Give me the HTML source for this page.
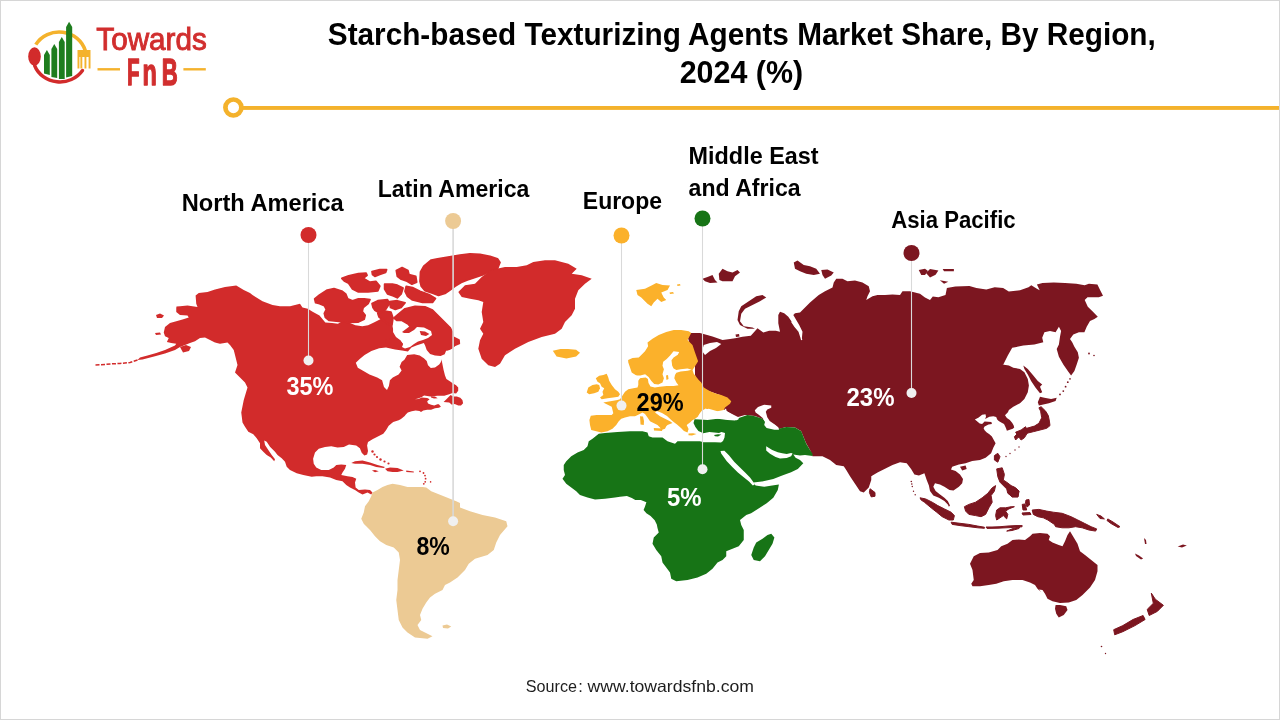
<!DOCTYPE html>
<html><head><meta charset="utf-8"><title>Starch-based Texturizing Agents Market Share, By Region</title>
<style>
html,body{margin:0;padding:0;background:#fff;}
body{width:1280px;height:720px;overflow:hidden;position:relative;font-family:"Liberation Sans",sans-serif;}
svg{position:absolute;left:0;top:0;will-change:transform;}
.frame{position:absolute;left:0;top:0;width:1278px;height:718px;border:1px solid #d6d6d6;}
</style></head>
<body>
<svg width="1280" height="720" viewBox="0 0 1280 720" font-family="Liberation Sans, sans-serif">
<g id="map">
<path d="M690,333 L700,333 L712.5,336.5 L722.5,340 L730,339 L735,338.3 L742.5,336.7 L750.8,335.8 L757.5,328.3 L763.3,332.5 L769.2,330.8 L775.8,330.8 L780,331.7 L778.3,323.3 L778.3,315 L780,311.7 L784.2,313.3 L788.3,316.7 L791.7,321.7 L795,326.7 L799.2,331.7 L800.8,336.7 L801.7,340 L802.5,331.7 L799.2,325 L795.8,319.2 L793.3,315 L795,313.3 L800,312.5 L803.75,308.75 L810,302.5 L818.75,295 L825,291.25 L832.5,287.5 L833.75,282.5 L836.25,278.75 L842.5,278.75 L847.5,281.25 L855,280.6 L862.5,282.5 L868.75,286.25 L870,291.25 L867.5,296.25 L866.25,300 L872.5,296.25 L877.5,295 L885,295 L892.5,294.4 L900,295 L902.5,291.25 L910,291.25 L920,293.75 L925,297.5 L930,300 L932.8,296.5 L938.4,297.2 L945.5,295.1 L946.9,288 L955.3,286.6 L969.4,285.9 L976.4,288 L986.3,289.5 L994.7,287.3 L1003.1,288 L1008.8,291.6 L1020,290.2 L1028.5,287.3 L1031.3,285.2 L1036.9,288.8 L1039.7,290.2 L1036.9,284.5 L1042.5,283.1 L1053.8,282.4 L1065,283.1 L1076.3,283.8 L1084.7,285.2 L1088.9,283.8 L1097.4,284.5 L1100.2,290.2 L1103,295.8 L1098.8,297.2 L1087.5,297.2 L1084.7,300 L1087.8,306.7 L1092.2,311.1 L1097.8,316.7 L1094.4,318.9 L1090,321.1 L1086.7,326.7 L1084.4,332.2 L1078.9,332.2 L1073.3,334.4 L1070,338.9 L1072.2,342.2 L1074.4,346.7 L1077.8,352.2 L1078.9,357.8 L1076.7,364.4 L1074.4,371.1 L1071.1,375.6 L1067.8,371.1 L1063.3,364.4 L1058.9,356.7 L1056.7,348.9 L1058.9,344.4 L1060,336.7 L1061.1,331.1 L1058.9,326.7 L1055.6,332.2 L1050,331.1 L1044.4,332.2 L1042.2,337.8 L1043.3,342.2 L1034.4,344.4 L1023.3,345.6 L1012.2,347.8 L1007.8,355.6 L1003.3,364.4 L1002.2,364.4 L1008.9,365.6 L1013.3,367.8 L1020,368.9 L1024.4,372.2 L1027.8,378.9 L1028.9,385.6 L1027.8,392.2 L1024.4,398.9 L1020,403.3 L1013.3,406.7 L1008.9,409.9 L1007.9,412.3 L1005,415.2 L1006.9,418.1 L1009.8,420.1 L1012.3,423 L1013.7,425.4 L1014.2,427.4 L1012.8,428.8 L1009.8,429.8 L1006.9,430.8 L1006,428.3 L1005,425.9 L1004,424 L1002.1,423 L998.7,421 L997.2,419.6 L996.2,417.1 L993.3,416.2 L989.4,416.7 L985.1,419.1 L986,416.7 L985.5,414.2 L982.1,414.7 L978.7,417.6 L974.9,419.6 L977.3,421.5 L979.7,423.5 L982.1,424 L984.6,421.5 L991.4,422 L991.9,424 L988.5,424.4 L984.6,426.4 L983.6,428.3 L984.6,430.3 L986.5,432.2 L989.4,434.2 L991.9,436.6 L993.8,440 L995.6,443.3 L993.3,447.8 L991.1,453.3 L985.6,457.8 L980,460 L972.2,461.1 L965.6,463.3 L958.9,464.4 L952.2,466.7 L951,469.5 L955.6,471.1 L960,474.4 L963,479 L962.2,483.3 L958.9,486.7 L953.5,490.5 L949.5,490 L944.4,486.7 L940,484.4 L935,483.3 L933.3,486.7 L935.6,491.1 L940,494.4 L944.4,497.8 L947.8,501.1 L950,505.6 L948.9,506.7 L947.8,504.4 L944.4,501.1 L938.9,497.8 L933.3,495.6 L930,491.1 L928.9,485.6 L926.7,480 L924.4,473.3 L918.9,475.6 L914.4,474.4 L911.1,468.9 L906.7,463.3 L900,462.2 L892.5,465 L885,468.75 L877.5,472.5 L871.25,476.25 L871.25,480 L868.75,487.5 L863.75,492.5 L860,491.25 L855,483.75 L850,476.25 L846.25,470 L843.75,466.25 L836.25,465 L830,460 L822.5,456.25 L812.5,456.25 L810,450 L806,443 L803.75,437.5 L801,431 L795,427.5 L786,427 L779,429 L775,425 L765,420 L755,416 L745,415 L738,417 L730,413 L724,410 L722,405 L728,400 L720,395 L700,388 L695,375 L695,360 L690,345 L688,338Z" fill="#7C1620"/>
<path d="M762.5,295 L766.25,297.5 L760,301.25 L752.5,305 L745,308.75 L741.25,313.75 L740,321.25 L743.75,326.25 L752.5,327.5 L755,328.75 L747.5,328.75 L740,325 L737.5,320 L738.75,311.25 L741.25,306.25 L748.75,301.25 L756.25,296.25Z" fill="#7C1620"/>
<path d="M718.75,273.75 L722.5,268.75 L727.5,271.25 L732.5,272.5 L737.5,270 L740,272.5 L735,276.25 L732.5,281.25 L727.5,281.25 L722.5,281.25 L719.4,280Z" fill="#7C1620"/>
<path d="M702.5,278.75 L707.5,276.9 L712.5,275 L715,280 L717.5,282.5 L710,283.1 L705,281.25Z" fill="#7C1620"/>
<path d="M735.5,334.5 L739,334 L739.5,336.5 L736,337Z" fill="#7C1620"/>
<path d="M793.75,262.5 L797.5,260.6 L803.75,265 L810,266.25 L816.25,268.75 L820,273.75 L813.75,275 L806.25,273.75 L800,271.25 L795,268.75Z" fill="#7C1620"/>
<path d="M821.25,270 L827.5,269.4 L833.75,272.5 L831.25,275.6 L825,278.75 L822.5,275Z" fill="#7C1620"/>
<path d="M918.75,270 L925,268.75 L928,271 L925,275 L921.25,275Z" fill="#7C1620"/>
<path d="M930,269 L938.4,270.5 L935.6,274.7 L930,277.5 L926,273Z" fill="#7C1620"/>
<path d="M942.7,269 L953.9,269 L953.9,271.2 L944,271.2Z" fill="#7C1620"/>
<path d="M939.8,280.3 L948.3,281.7 L944,283.8Z" fill="#7C1620"/>
<path d="M1040,396.7 L1044.4,397.8 L1051.1,398.9 L1056.7,397.8 L1055.6,401.1 L1048.9,403.3 L1043.3,404.4 L1038.9,405.6 L1037.8,402.2Z" fill="#7C1620"/>
<path d="M1023.3,365.6 L1027.8,368.9 L1033.3,375.6 L1037.8,381.1 L1042.2,384.4 L1040,386.7 L1042.2,392.2 L1040,393.3 L1035.6,387.8 L1031.1,381.1 L1027.8,374.4 L1024.4,368.9Z" fill="#7C1620"/>
<path d="M960,466.7 L965.6,465.6 L966.7,468.9 L962.2,470.6Z" fill="#7C1620"/>
<path d="M970,563.75 L973.75,556.25 L980,553.1 L988.75,552.5 L997.5,550 L1001.25,546.25 L1007.5,543.75 L1012.5,540 L1018.75,539.4 L1025,540 L1030,536.25 L1032.5,533.75 L1040,533.1 L1047.5,533.75 L1050,536.25 L1048.75,540 L1052.5,542.5 L1058.75,545 L1062.5,546.25 L1065,541.25 L1067.5,535 L1070,531.25 L1073.75,537.5 L1077.5,543.75 L1080,551.25 L1085,555 L1091.25,560 L1097.5,565 L1097.5,571.25 L1095,580 L1090,587.5 L1082.5,595 L1076.25,600 L1068.75,602.5 L1060,603.1 L1052.5,601.25 L1047.5,598.75 L1045,593.75 L1042.5,590 L1039,589.5 L1041,592 L1037.5,588.75 L1035,585 L1030,582.5 L1022.5,580 L1012.5,580 L1003.75,581.25 L996.25,583.75 L988.75,585 L980,586.25 L972.5,586.25 L971.25,583.75 L973.75,580 L972.5,570Z" fill="#7C1620"/>
<path d="M1055.6,605 L1060,605 L1066.25,606.25 L1067.5,610 L1063.75,615 L1058.75,617.5 L1056.25,613.75 L1055,608.75Z" fill="#7C1620"/>
<path d="M1135,553.5 L1139,555.5 L1143.1,558.6 L1141,559.5 L1136,556Z" fill="#7C1620"/>
<path d="M1144,538 L1146,540 L1146.5,544 L1145,544Z" fill="#7C1620"/>
<path d="M1177.7,546.4 L1183,544.5 L1186.8,545.4 L1182,547.5Z" fill="#7C1620"/>
<path d="M1041.1,406.7 L1045.6,411.1 L1048.3,415.6 L1049.4,421.1 L1050,425.6 L1046.7,428.3 L1040,430 L1033.3,431.7 L1026.7,433.3 L1021.1,435.6 L1017.8,437.8 L1015.6,440 L1014.4,436.7 L1018.9,432.2 L1026.7,428.3 L1034.4,426.1 L1038.9,423.3 L1041.7,417.8 L1040.6,411.1 L1038.9,407.8Z" fill="#7C1620" stroke="#7C1620" stroke-width="1" stroke-linejoin="round"/>
<path d="M1015.6,432.2 L1021.1,430 L1025.6,426.7 L1027.8,432.2 L1024.4,437.8 L1021.1,440 L1017.8,435.6Z" fill="#7C1620" stroke="#7C1620" stroke-width="1" stroke-linejoin="round"/>
<path d="M994.4,455.6 L997.8,453.3 L1000,456.7 L997.8,462.2 L994.4,460Z" fill="#7C1620" stroke="#7C1620" stroke-width="1" stroke-linejoin="round"/>
<path d="M996.7,468.9 L1002.2,467.8 L1004.4,474.4 L1003.3,480 L1006.7,482.2 L1011.1,485.6 L1015.6,487.8 L1018.9,491.1 L1017.8,496.7 L1012.2,496.7 L1007.8,493.3 L1006.7,488.9 L1000,482.2 L997.8,476.7Z" fill="#7C1620" stroke="#7C1620" stroke-width="1" stroke-linejoin="round"/>
<path d="M964.4,506.7 L968.9,504.4 L975.6,502.2 L982.2,497.8 L987.8,493.3 L992.2,487.8 L995.6,485.6 L994.4,491.1 L991.1,495.6 L992.2,502.2 L988.9,507.8 L985.6,514.4 L981.1,516.7 L975.6,515.6 L968.9,514.4 L965.6,511.1Z" fill="#7C1620" stroke="#7C1620" stroke-width="1" stroke-linejoin="round"/>
<path d="M920,497.8 L925.6,498.9 L932.2,502.2 L937.8,505.6 L944.4,508.9 L951.1,512.2 L954.4,515.6 L953.3,520 L948.9,520 L942.2,516.7 L936.7,512.2 L931.1,507.8 L924.4,502.2 L921.1,500Z" fill="#7C1620" stroke="#7C1620" stroke-width="1" stroke-linejoin="round"/>
<path d="M951.1,522.2 L960,523.3 L968.9,524.4 L977.8,526.1 L984.4,527.2 L984.4,528.3 L977.8,527.8 L968.9,526.7 L960,525.6 L952.2,524.4Z" fill="#7C1620" stroke="#7C1620" stroke-width="1" stroke-linejoin="round"/>
<path d="M996.7,510 L1000,507.8 L1005.6,507.8 L1011.1,506.7 L1014.4,506.7 L1008.9,508.9 L1005.6,511.1 L1007.8,514.4 L1006.7,518.9 L1003.3,515.6 L1000,517.8 L996.7,520 L995.6,515.6Z" fill="#7C1620" stroke="#7C1620" stroke-width="1" stroke-linejoin="round"/>
<path d="M1032.2,510 L1038.9,509.4 L1046.7,511.1 L1053.3,512.2 L1062.2,513.3 L1071.1,516.7 L1077.8,520 L1084.4,523.3 L1091.1,526.7 L1096.7,528.9 L1095.6,531.1 L1088.9,530 L1082.2,527.8 L1075.6,526.7 L1068.9,527.8 L1062.2,527.8 L1055.6,526.7 L1054.4,524.4 L1047.8,520 L1043.3,517.8 L1037.8,516.7 L1033.3,514.4Z" fill="#7C1620" stroke="#7C1620" stroke-width="1" stroke-linejoin="round"/>
<path d="M1006.7,531.1 L1013,528.5 L1020,526.7 L1019,528.5 L1012,530.5Z" fill="#7C1620" stroke="#7C1620" stroke-width="1" stroke-linejoin="round"/>
<path d="M986,527 L992,527 L1000,526.7 L1008,526 L1016,525.6 L1022.2,525.6 L1022,526.8 L1010,527.6 L998,528.2 L987,528.4Z" fill="#7C1620" stroke="#7C1620" stroke-width="1" stroke-linejoin="round"/>
<path d="M1022.2,504.4 L1025,504 L1026.7,510 L1023,510Z" fill="#7C1620" stroke="#7C1620" stroke-width="1" stroke-linejoin="round"/>
<path d="M1107.8,518.9 L1113,522 L1120,526.7 L1118,527.5 L1111,523.5 L1107,520.5Z" fill="#7C1620" stroke="#7C1620" stroke-width="1" stroke-linejoin="round"/>
<path d="M1096.7,514.4 L1101,516 L1104.4,518.9 L1100,518.5Z" fill="#7C1620" stroke="#7C1620" stroke-width="1" stroke-linejoin="round"/>
<path d="M870,488.75 L875,492.5 L875,496.25 L871.25,496.9 L869.4,492.5Z" fill="#7C1620" stroke="#7C1620" stroke-width="1" stroke-linejoin="round"/>
<path d="M1151.3,593.1 L1155.3,599.2 L1163.4,605.3 L1157.3,611.4 L1149.2,615.5 L1147.2,609.4 L1153.3,603.3Z" fill="#7C1620" stroke="#7C1620" stroke-width="1" stroke-linejoin="round"/>
<path d="M1143.1,615.5 L1145.1,619.5 L1135,625.6 L1122.8,631.7 L1114.7,634.8 L1113.7,629.7 L1122.8,625.6 L1133,619.5Z" fill="#7C1620" stroke="#7C1620" stroke-width="1" stroke-linejoin="round"/>
<path d="M1026,500 L1029,499.5 L1029.5,505 L1027,507 L1025.5,503Z" fill="#7C1620" stroke="#7C1620" stroke-width="1" stroke-linejoin="round"/>
<path d="M1008,488 L1014,487 L1019,491 L1018,497 L1012,497 L1008,493Z" fill="#7C1620" stroke="#7C1620" stroke-width="1" stroke-linejoin="round"/>
<path d="M1022,513 L1030,512.5 L1031,514.5 L1023,515Z" fill="#7C1620" stroke="#7C1620" stroke-width="1" stroke-linejoin="round"/>
<polyline points="791.7,321.7 795,326.7 799.2,331.7 800.8,336.7 801.7,340" fill="none" stroke="#fff" stroke-width="1.3"/>
<path d="M598.75,433.75 L605,433.1 L611.25,432.5 L617.5,431.9 L630,431.25 L642.5,431.25 L647.5,432.5 L648.75,436.25 L652.5,437.5 L657.5,437.5 L662.5,437.5 L667.5,441.25 L675,443.75 L677.5,441.25 L685,441.25 L692.5,441.25 L700,441.25 L703.4,442.3 L715,442.3 L721,442.6 L723,441 L724.5,437.6 L725,432.9 L721.4,432.1 L719,432.9 L714.4,432.5 L709.3,432.1 L703.4,433.3 L698.4,430.9 L695.4,427 L693.5,423 L694.5,419.2 L700,419.5 L707.5,420 L717.5,418.75 L727.5,420 L735,420.6 L738.75,418 L747.5,415 L755,416.25 L762.5,418.75 L766,422 L770,426 L778.75,428.75 L786.25,426.9 L795,427.5 L801.25,431.25 L803.75,437.5 L806.25,443.75 L810,450 L812.5,453.75 L812.5,456 L805,455 L800,455.6 L793.3,454.4 L795.6,457.8 L800,460 L803.3,463.3 L797.8,468.9 L791.1,472.2 L782.2,475.6 L773.3,478.9 L764.4,481.1 L753.3,482.4 L755.6,485.6 L764.4,486.7 L772.2,485.6 L778.9,484.4 L777.8,490 L773.3,497.8 L766.7,503.3 L757.8,508.9 L751.1,513.3 L746.25,515 L746.25,515 L740,520 L741.25,525 L743.75,530 L743.75,540 L738.75,546.25 L732.5,548.75 L726.25,551.25 L726.25,556.25 L722.5,560 L717.5,562.5 L712.5,568.75 L706.25,573.75 L697.5,577.5 L687.5,580 L676.25,581.25 L671.25,578.75 L670,572.5 L666.25,567.5 L662.5,562.5 L661.25,556.25 L656.25,550 L652.5,543.75 L653.75,537.5 L658.75,532.5 L657.5,528 L656.8,524.4 L654.7,520.3 L650.6,516.1 L646.4,513.3 L643.6,509.9 L645,506.4 L646.4,502.2 L640.8,500.1 L635.3,500.1 L631.8,498 L626.9,496 L620,496.7 L615,497.5 L605,498.75 L595,499.4 L587.5,497.5 L580,495 L576.25,491.25 L571.25,487.5 L566.25,483.75 L562.5,478.75 L565,475 L563.75,470 L563.75,465 L566.25,461.25 L571.25,456.25 L577.5,452.5 L583.75,450 L587.5,446.25 L588.75,441.25 L592.5,438.75Z" fill="#177416"/>
<path d="M771.25,533.75 L774.4,537.5 L772.5,543.75 L768.75,550 L765,556.25 L760,561.25 L753.75,560 L751.25,555 L753.75,547.5 L756.25,542.5 L762.5,538.75 L767.5,535Z" fill="#177416"/>
<path d="M714,435 L718,434.3 L721.4,434.5 L718,436.4 L715,436.2Z" fill="#177416"/>
<path d="M636.7,375.8 L631.7,372.5 L630,367.5 L628.3,362.5 L628.1,360 L632.5,358 L638.75,357.5 L645,351.25 L648.1,346.25 L647.5,342.5 L652.5,338.75 L658.75,335 L666.25,331.9 L673.75,330 L681.25,330 L688.75,331.25 L691.25,333.1 L687.5,340 L692.5,345 L695,352.5 L698.1,361.25 L695,366.25 L692.5,370 L693.75,373.75 L698.75,380 L701.25,382.5 L703.75,387.5 L710,391.25 L716.25,393.75 L721.25,395 L727.5,397.5 L731.25,401.25 L730,403.75 L725,407.5 L723.75,410 L717.5,411.25 L708.75,408.75 L702.5,410 L700,413 L698,416.5 L695.5,418.5 L692,420.5 L690.6,422.1 L686.7,425 L688.6,428.9 L687.5,432.5 L684,431 L681,428 L677,424.5 L673,421.5 L671.25,420 L667,416 L662,413 L657,411 L655,412.5 L660,416.25 L665,418.75 L670,421.25 L672.5,423.1 L667.5,425 L666.25,426.25 L665,428.75 L661.25,430 L660,427.5 L657.5,425 L652.5,422.5 L650,421.25 L647.5,417.5 L645,414 L642.5,412.5 L638.75,414.4 L635,416.25 L630,416.25 L625,417.5 L621.25,418.75 L618.75,421.25 L616.25,425 L612.5,428.75 L607.5,431.25 L601.25,432.5 L596.25,431.25 L591.25,430 L590,425 L589.4,420 L590.8,415.8 L596.7,415 L605,415 L611.7,415 L613.3,413.3 L612.5,410 L611.7,406.7 L606.7,404.2 L603.3,402.5 L607.5,401.7 L613.3,400.8 L617.5,400 L620,399.2 L621.7,396.7 L625,391.7 L628.3,389.2 L633.3,388.3 L637.5,387.5 L638.3,385 L638.3,380.8 L640,378.3 L643.3,377.5Z" fill="#FBB12B"/>
<path d="M586.7,392.5 L588.3,387.5 L592.5,385 L596.7,384.2 L599.2,385 L600,388.3 L598.3,391.7 L594.2,393.3 L589.2,394.2Z" fill="#FBB12B"/>
<path d="M595.8,378.3 L599.2,375.8 L603.3,375 L606.7,373.75 L608.3,377.5 L609.2,380.8 L611.7,385 L615,389.2 L618.3,391.7 L620,394.2 L618.3,396.7 L613.3,397.5 L607.5,398.3 L601.7,399.2 L600,397.5 L603.3,395 L602.5,391.7 L604.2,388.3 L601.7,386.7 L600,383.3 L597.5,381.7Z" fill="#FBB12B"/>
<path d="M552.8,350.8 L560.5,348.9 L568,349 L576.1,349.8 L580,352.8 L576.1,356.6 L566.4,358.6 L556.6,356.6Z" fill="#FBB12B"/>
<path d="M636.25,290 L645,288.75 L652.5,285 L656.25,283.1 L662.5,285 L670,285.6 L667.5,290 L661.25,292.5 L663.75,297.5 L666.25,300 L661.25,301.9 L657.5,298.75 L653.75,302.5 L651.25,306.25 L647.5,303.75 L641.25,297.5 L637.5,295Z" fill="#FBB12B"/>
<path d="M677,284.5 L680,284 L680.5,285.5 L677.5,286Z" fill="#FBB12B"/>
<path d="M669.5,292.5 L673,292 L674,293.5 L670,294Z" fill="#FBB12B"/>
<path d="M653.75,428.1 L662.5,428.5 L662,431 L654,430.5Z" fill="#FBB12B"/>
<path d="M640,416.25 L643,416.5 L644,421 L643.75,425 L640.5,424.5Z" fill="#FBB12B"/>
<path d="M688.5,433.6 L693,433.2 L696.5,434 L692,435.6 L688.5,435.2Z" fill="#FBB12B"/>
<path d="M673.6,351.25 L679.2,351.9 L677.8,354.7 L673.6,357.5 L671.5,360.3 L672.2,365.8 L673.6,368.6 L676.4,370 L680.6,369.3 L687.5,368.6 L691.7,369.7 L687.5,370.7 L680.6,371.4 L676.4,372.8 L675,374.9 L674.3,378.3 L676.4,382.5 L678.5,385.3 L673.6,386 L666.7,386 L659.7,386.7 L654.9,387.4 L650.5,386.5 L648.5,383 L647.9,379 L645.8,377.6 L641,378 L637.5,378.3 L633,379 L628,378 L629.2,372 L632,374 L635.4,375.6 L640.3,375.6 L645.1,374.2 L648.6,376.9 L651.4,381.1 L654.2,383.9 L658.3,384.6 L662.5,382.5 L663.9,378.3 L662.5,374.2 L663.9,369.3 L662.5,365.8 L663.2,361.7 L666.7,358.9 L670.1,355.4 L672.9,351.9Z" fill="#fff"/>
<path d="M766.2,446.2 L772.2,450 L777.8,452.2 L782.2,453.3 L786.7,453.9 L791.1,453.1 L792.6,453.5 L791.1,456.3 L786.7,458 L780,458.5 L775.6,457 L770,453.8 L766.2,450.5Z" fill="#fff"/>
<path d="M724.4,450.8 L728.9,455.3 L734.4,461.9 L740,467.5 L745.6,473 L750,477.5 L753.3,481.9 L754.8,484.5 L752.8,485.5 L749,481.5 L743.4,476.9 L737.9,472.4 L732.3,466.9 L726.8,461.3 L721.2,453.5 L720.5,451Z" fill="#fff"/>
<path d="M701.7,411.7 L705.6,408.6 L713.4,411.7 L722.8,410.9 L726,408.6 L726.7,410.9 L733.75,415.6 L739.2,418.75 L736.9,420.3 L729,419.5 L721.25,418.75 L713.4,418.75 L705.6,418.75 L699.4,418 L698.6,415.6Z" fill="#fff"/>
<path d="M754.8,410.2 L758,407 L764.2,404.7 L771.25,405.5 L771.25,407.8 L767.3,409.4 L765.8,411.7 L767.3,417.2 L769.7,421.1 L774.4,424.2 L778.3,427.3 L779,429.7 L774.4,429.7 L766.6,428.1 L764.2,425 L765,421.9 L762.7,418 L758.75,414.8 L755.6,412.5Z" fill="#fff"/>
<path d="M703.75,345 L710,343 L717,342 L721.25,344 L716,348 L710,351 L705,355 L702,351Z" fill="#fff"/>
<path d="M666,375.5 L668,375 L668.5,379 L666.5,380Z" fill="#FBB12B"/>
<path d="M176.25,308.1 L176.5,306.5 L180,306.25 L187.5,305.4 L192.5,306.25 L197.5,306.9 L196.25,303.75 L195.6,295.6 L198.75,293.1 L207.5,291.9 L215,289.4 L225,286.9 L236.25,285.6 L243.75,290 L250,293.1 L252.5,295 L262.5,301.25 L272.5,305 L280,306.25 L290,306.25 L300,303.75 L302.5,307.5 L307.8,308.75 L312.6,311.7 L319.5,315.6 L325.3,322.4 L332.1,322.9 L337.9,323.8 L340.9,321.9 L346.7,320.9 L350.6,323.3 L355.4,325.3 L362.3,326.3 L368.1,325.3 L373.9,322.4 L379.8,319.5 L385.6,315.6 L389.5,319.5 L392.4,325.3 L393.4,331.1 L396,334 L402,332 L410,326 L416,322 L425,322 L435,330 L441,340 L441.4,358.9 L443.6,370 L445,375.6 L446.4,379 L450.6,381.8 L452.6,383.2 L456.1,385.3 L458.2,387.4 L458.2,390.8 L456.1,393.6 L452.6,392.9 L449.2,394.3 L444.3,395.7 L437.4,395.7 L430.4,396.4 L424.1,395.4 L421.8,397 L418,398.6 L415,399.2 L418.5,399.1 L421.8,397.6 L427.2,398.1 L429.6,399.3 L427.2,401.2 L428,403.6 L431.1,404.7 L434.2,405.5 L437.4,404.3 L438.9,404.3 L440.9,406.7 L438.9,407.8 L435,408.2 L431.1,409.8 L427.2,409.8 L423.3,410.6 L421,412.1 L419.5,411 L415.6,410.6 L411.7,411.3 L407.8,412.5 L405.8,414.5 L404.7,416 L401,419 L398.7,420.3 L393.2,422.1 L388.7,425.7 L386,430.2 L383.3,433.8 L377.9,436.5 L372.5,439.2 L368,441.9 L367.1,445.5 L368,451 L367.1,454.6 L364.4,455.5 L361.7,452.8 L359.9,448.2 L356.2,445.5 L349,444.6 L343.75,446.9 L337.5,447.5 L331.25,446.25 L325,446.9 L318.75,448.75 L315,452.5 L313.1,458.75 L313.75,463.75 L316.25,467.5 L321.25,470 L328.75,470 L333.75,467.5 L336.25,465 L341.25,464.4 L346.25,465 L345,468.75 L342.5,472.5 L341.25,475 L347.5,476.25 L352.5,476.9 L356.25,478.75 L355,482.5 L355.6,487.5 L358.75,490 L365,489.4 L370,490 L372.5,492.5 L371.25,494.4 L367.5,492.5 L362.5,494.4 L358.75,492.5 L355,490 L350,487.5 L346.25,485 L342.5,481.25 L336.25,480 L330,477.5 L322.5,476.25 L316.25,476.25 L311.7,476.7 L303.3,475 L296.7,473.3 L290,470 L286.7,466.7 L285,461.7 L281.7,458.3 L277.5,455 L275,451.7 L270,446.7 L266.7,441.7 L264.2,440.5 L265,445 L268.3,450 L271.7,455 L275,459.2 L274.2,461.2 L270.8,457.5 L266.7,455 L263.3,451.7 L260,448.3 L260,443.3 L256.7,438.3 L253.3,434.2 L248.3,431.7 L245,426.7 L242.5,422.5 L241.25,412.5 L243.75,400 L247.5,387.5 L245,382.5 L240,377.5 L235,372.5 L237.5,365 L235,355 L233.75,350 L230,345 L227.5,342.5 L220,343.75 L215,342.5 L210,340 L205,337.5 L200,338.1 L195,341.25 L190,343.1 L185,345 L180,346.9 L175,350 L165,353.5 L155,356.25 L142.5,359.4 L137.5,360 L140,357.5 L147.5,355.6 L156.25,353.1 L165,350 L175,345.6 L176.25,343.75 L171.25,343.1 L166.9,341.9 L168.75,338.1 L165,336.25 L163.75,332.5 L165,326.9 L170,323.1 L176.25,321.25 L182.5,319.4 L188.75,317.5 L187.5,315.6 L180,315 L176.25,311.9Z" fill="#D22B2B"/>
<path d="M314.6,298.8 L319.5,294.9 L327.2,290 L334,288.6 L341.8,291 L345.7,293.9 L347.7,298.8 L352.5,300.7 L358.4,298.8 L364.2,298.8 L370,299.7 L368.1,303.6 L363.2,307.5 L362.3,311.4 L365.2,315.3 L364.2,319.2 L358.4,322.1 L348.6,322.5 L338.9,321.5 L329.2,320.5 L325.3,317.3 L324.3,313.4 L326.3,309.5 L324.3,305.6 L319.5,303.6 L315.6,302.7Z" fill="#D22B2B" stroke="#D22B2B" stroke-width="1.7" stroke-linejoin="round"/>
<path d="M341.8,278.3 L348.6,275.9 L358.4,273.5 L366.1,273 L367.1,275.4 L363.2,278.3 L370,282.2 L375.9,281.3 L379.8,286.1 L377.8,291 L368.1,292 L358.4,292 L352.5,289 L348.6,283.2 L344.7,281.3Z" fill="#D22B2B" stroke="#D22B2B" stroke-width="1.7" stroke-linejoin="round"/>
<path d="M372,271.5 L379.8,269.6 L386.6,269.6 L385.6,272.5 L379.8,274.5 L374.9,276.4 L372.5,274.5Z" fill="#D22B2B" stroke="#D22B2B" stroke-width="1.7" stroke-linejoin="round"/>
<path d="M384.6,284.2 L392.4,284.2 L397.3,285.2 L403.1,288.1 L401.2,293.9 L397.3,297.8 L393.4,295.9 L387.5,293.9 L384.6,289Z" fill="#D22B2B" stroke="#D22B2B" stroke-width="1.7" stroke-linejoin="round"/>
<path d="M396.3,270.6 L402.1,267.6 L408,270.6 L409,274.5 L415.8,276.4 L416.7,282.2 L411.9,284.2 L407,281.3 L401.2,279.3 L397.3,276.4Z" fill="#D22B2B" stroke="#D22B2B" stroke-width="1.7" stroke-linejoin="round"/>
<path d="M372,303.6 L377.8,300.7 L387.5,299.7 L389.5,303.6 L385.6,309.5 L379.8,313.4 L374.9,310.4 L373,307.5Z" fill="#D22B2B" stroke="#D22B2B" stroke-width="1.7" stroke-linejoin="round"/>
<path d="M389.5,301.7 L397.3,300.7 L405.1,302.7 L401.2,307.5 L395.3,309.5 L390.5,307.5Z" fill="#D22B2B" stroke="#D22B2B" stroke-width="1.7" stroke-linejoin="round"/>
<path d="M377.8,313.4 L385,311 L391,312 L393,318 L392,325 L388,324 L383,320 L379,317Z" fill="#D22B2B" stroke="#D22B2B" stroke-width="1.7" stroke-linejoin="round"/>
<path d="M420,281.25 L420.5,272 L423.75,266.25 L431.25,260 L437.5,258.75 L445,257.5 L452.5,256.25 L460,255 L470,253.75 L480,254.4 L490,256.25 L497.5,258.75 L500,262.5 L497.5,268.75 L490,271.25 L482.5,275 L475,277.5 L467.5,280 L461.25,282.5 L455,286.25 L450,290 L445,293.5 L438.5,295.5 L432.5,293.25 L425,290.75 L421.25,286.25Z" fill="#D22B2B" stroke="#D22B2B" stroke-width="1.7" stroke-linejoin="round"/>
<path d="M405,291.25 L406.25,286.25 L412.5,287.5 L420,291.25 L429,294.5 L435.5,298.5 L432.5,302.5 L422.5,302.5 L412.5,300 L407.5,296.25Z" fill="#D22B2B" stroke="#D22B2B" stroke-width="1.7" stroke-linejoin="round"/>
<path d="M394,318 L397.5,315 L405,308.75 L415,306.25 L425,306.9 L432.5,310 L438.75,316.25 L445,322.5 L450,327.5 L452.5,332.5 L453,337 L459,340 L459.3,343.5 L454.5,345.5 L451.7,348 L446.1,350.7 L444.7,354.2 L440.6,356.25 L435,355.6 L430.1,354.2 L426.7,350 L425.3,345.8 L423.9,341.7 L416.25,343.75 L411.4,345.8 L410,342 L413,336 L418,333 L413,330 L408,324 L402,320.5 L397,320.5Z" fill="#D22B2B" stroke="#D22B2B" stroke-width="1.7" stroke-linejoin="round"/>
<path d="M460,290.3 L465,285.3 L475,283.7 L481.7,277 L488.3,272 L496.7,268.7 L505,267 L516.7,267 L526.7,265.3 L533.3,262 L545,260.3 L555,260.3 L568.3,263.7 L576.7,268.7 L571.7,273.7 L581.7,275.3 L591.7,278.7 L585,283.7 L578.3,290.3 L575,298.7 L575,308.7 L571.7,315.3 L565,322 L561.7,328.7 L555,333.7 L541.7,337 L528.3,342 L515,348.7 L505,355.3 L500,363.7 L495,367 L488.3,365.3 L481.7,358.7 L478.3,348.7 L480,340.3 L483.3,333.7 L480,328.7 L483.3,322 L481.7,312 L483.3,302 L478.3,300.3 L470,298.7 L461.7,297 L458.3,292Z" fill="#D22B2B"/>
<path d="M443.6,401.9 L446.4,399.2 L450.6,395 L453.3,396.4 L456.8,396.4 L460.3,397.8 L462.4,399.9 L463.1,403.3 L461,405.4 L458.2,405.4 L454.7,404 L451.9,404.7 L449.2,402.6Z" fill="#D22B2B"/>
<path d="M351.25,463.1 L355,461.25 L362.5,460.6 L370,462.5 L377.5,465 L385,466.9 L383.75,468 L376.25,466.9 L370,465 L362.5,463.75 L355,463.75Z" fill="#D22B2B"/>
<path d="M385,468.75 L390,467.5 L397.5,468.1 L403.75,470.6 L397.5,471.9 L392.5,471.9 L387.5,471.25Z" fill="#D22B2B"/>
<path d="M371.9,470.6 L375,470 L378.75,471.25 L375,472.25Z" fill="#D22B2B"/>
<path d="M406.25,470.6 L413.75,471.5 L413.75,472.5 L406.25,472Z" fill="#D22B2B"/>
<path d="M180,347 L186,345 L191,347 L189,351 L183,352.5Z" fill="#D22B2B"/>
<path d="M156,315 L160,313.5 L164,315.5 L162,318 L157,318Z" fill="#D22B2B"/>
<path d="M155,333 L160,332.5 L161,334.5 L156,335Z" fill="#D22B2B"/>
<path d="M431,396.2 L435,396.5 L437.7,398.3 L434,398.5 L431,397.5Z" fill="#D22B2B"/>
<circle cx="372.5" cy="451.5" r="1.2" fill="#D22B2B"/>
<circle cx="374.5" cy="454.5" r="1.1" fill="#D22B2B"/>
<circle cx="377" cy="457" r="1.1" fill="#D22B2B"/>
<circle cx="380.5" cy="459.5" r="1.2" fill="#D22B2B"/>
<circle cx="384.5" cy="461.5" r="1.1" fill="#D22B2B"/>
<circle cx="388.5" cy="463.5" r="1.1" fill="#D22B2B"/>
<circle cx="420" cy="471.3" r="0.9" fill="#D22B2B"/>
<circle cx="423.5" cy="473" r="0.9" fill="#D22B2B"/>
<circle cx="425" cy="475.6" r="0.9" fill="#D22B2B"/>
<circle cx="425.6" cy="478.7" r="0.9" fill="#D22B2B"/>
<circle cx="425.2" cy="481.8" r="0.9" fill="#D22B2B"/>
<circle cx="423.8" cy="483.8" r="0.9" fill="#D22B2B"/>
<circle cx="430.6" cy="481.9" r="0.8" fill="#D22B2B"/>
<path d="M355.8,362.8 L359.7,358.9 L364.6,355 L371.4,351.1 L379.2,348.2 L386,347.5 L395,349.5 L402,350.5 L407.9,351.4 L411.4,347.5 L416.25,345.5 L423.9,343 L425.3,346 L426.7,350 L430.1,354 L435,355.5 L440.6,356 L444.7,354.2 L446.1,350.7 L451.7,350.5 L452,353.5 L447.5,353.5 L442.6,357.5 L440.6,362.5 L439.2,364.6 L435,367.4 L430.8,368 L428,365.3 L426.7,361.1 L423.9,358.3 L419.7,355.6 L414.2,354.2 L407.2,354.9 L404.4,359.7 L401.6,362 L399.6,366.7 L401.6,370.6 L398.6,374.5 L392.8,377.4 L389.9,380.3 L388.9,386.1 L387,390 L384,387.1 L382.1,380.3 L377.2,377.4 L369.5,374.5 L362.6,370.6 L357.8,367.7Z" fill="#fff"/>
<path d="M394,325 L399,326 L400,331 L404,333 L409,333 L414,330 L417,327 L424,327.5 L431,331 L432,335 L428,338 L423,340 L418,341.5 L414,344 L410,347 L405,348.5 L402,347 L403,344 L400,340 L396,337 L393,332Z" fill="#fff"/>
<path d="M419.7,331 L425,331.5 L429.4,334 L426,336 L421,335Z" fill="#D22B2B"/>
<path d="M385,340 L392,338.5 L400,340 L403,344 L401,348 L394,348.5 L387,347Z" fill="#D22B2B"/>
<polyline points="137.5,360 130,362.5 120,363.5 112.5,363.75 105,364.5 95,365" fill="none" stroke="#D22B2B" stroke-width="1.5" stroke-dasharray="4 1.5"/>
<path d="M372.5,492.5 L377.5,490 L382.5,486.9 L387.5,485 L392.5,483.75 L400,485 L407.5,486.9 L415,486.9 L422.5,486.9 L426.25,487.5 L431.25,491.25 L437.5,493.75 L443.75,496.25 L450,498.75 L456.25,501.25 L460,503 L460,507.5 L470,511.25 L482.5,515 L495,517.5 L506.25,521.25 L507.5,526.25 L500,535 L496.25,542.5 L493.75,550 L487.5,555 L475,558.75 L468.75,563.75 L465,570 L457.5,577.5 L450,582.5 L445,585 L442.5,590 L435,593.75 L430,597.5 L426.25,602.5 L422.5,608.75 L420,615 L421.25,620 L417.5,625 L420,630 L425,632.5 L432.5,636.25 L427.5,638.75 L415,637.5 L407.5,632.5 L402.5,627.5 L398.75,620 L397.5,610 L396.25,600 L397.5,590 L397.5,580 L398.75,570 L400,560 L398.75,552.5 L393.75,547.5 L386.25,545 L380,541.25 L375,536.25 L370,530 L363.75,523.75 L361.25,518.75 L363.75,512.5 L365,506.25 L368.75,501.25 L371.25,496.25Z" fill="#ECCA94"/>
<path d="M442.5,625.5 L447,624.5 L451.25,626.5 L448,628.5 L443,628Z" fill="#ECCA94"/>
<circle cx="1060" cy="394.4" r="0.9" fill="#7C1620"/>
<circle cx="1063.3" cy="391.1" r="0.9" fill="#7C1620"/>
<circle cx="1065.6" cy="386.7" r="0.9" fill="#7C1620"/>
<circle cx="1067.8" cy="382.2" r="0.9" fill="#7C1620"/>
<circle cx="1070" cy="378.9" r="0.8" fill="#7C1620"/>
<circle cx="1006" cy="456.5" r="0.7" fill="#7C1620"/>
<circle cx="1010" cy="453.5" r="0.7" fill="#7C1620"/>
<circle cx="1015" cy="450" r="0.7" fill="#7C1620"/>
<circle cx="1019" cy="447" r="0.7" fill="#7C1620"/>
<circle cx="1089" cy="353.5" r="0.9" fill="#7C1620"/>
<circle cx="1094" cy="355.5" r="0.8" fill="#7C1620"/>
<circle cx="911.3" cy="481.5" r="0.8" fill="#7C1620"/>
<circle cx="911.8" cy="484" r="0.8" fill="#7C1620"/>
<circle cx="912.3" cy="486.5" r="0.7" fill="#7C1620"/>
<circle cx="913.5" cy="491.2" r="0.7" fill="#7C1620"/>
<circle cx="915.2" cy="494.8" r="0.7" fill="#7C1620"/>
<circle cx="1101.5" cy="646.5" r="0.8" fill="#7C1620"/>
<circle cx="1105.5" cy="653.5" r="0.7" fill="#7C1620"/>
</g>
<g id="logo">

<path d="M35.8,44.6 A27,25.3 0 0 1 85.3,50.8" fill="none" stroke="#F4B22C" stroke-width="3.6" stroke-linecap="butt"/>
<path d="M34.6,65.5 A27,25.3 0 0 0 82.5,70.5" fill="none" stroke="#D22B2B" stroke-width="3.4" stroke-linecap="round"/>
<ellipse cx="34.5" cy="56.5" rx="6.3" ry="9.2" fill="#D22B2B"/>
<path d="M44,55 L46.9,50 L49.8,55 L49.8,75 L44,73.5Z" fill="#1E7D1E"/>
<path d="M51.4,49 L54.3,44 L57.2,49 L57.2,78 L51.4,77Z" fill="#1E7D1E"/>
<path d="M58.9,42 L61.8,36.9 L64.7,42 L64.7,79 L58.9,79Z" fill="#1E7D1E"/>
<path d="M66.1,27 L69.1,21.7 L72.2,27 L72.2,76 L66.1,77.5Z" fill="#1E7D1E"/>
<path d="M77.5,50 L90.5,50 L90.5,68.5 L88.6,68.5 L88.6,57 L86.4,57 L86.4,68.5 L84.5,68.5 L84.5,57 L82.3,57 L82.3,68.5 L80.4,68.5 L80.4,57 L79.4,57 L79.4,68.5 L77.5,68.5Z" fill="#F4B22C"/>
<line x1="97.5" y1="69.3" x2="120" y2="69.3" stroke="#F4B22C" stroke-width="2.4"/>
<line x1="183.4" y1="69.3" x2="205.8" y2="69.3" stroke="#F4B22C" stroke-width="2.4"/>

</g>
<g id="header">

<circle cx="233.4" cy="107.5" r="8" fill="none" stroke="#F4B22C" stroke-width="4.7"/>
<rect x="242" y="106" width="1040" height="3.9" fill="#F4B22C"/>

</g>
<g id="leaders">
<line x1="308.5" y1="235" x2="308.5" y2="360.5" stroke="#d9d9d9" stroke-width="1.1"/>
<circle cx="308.5" cy="235" r="8" fill="#D22B2B"/>
<circle cx="308.5" cy="360.5" r="5" fill="#f0f0f0"/>
<line x1="453.1" y1="221" x2="453.1" y2="521.25" stroke="#d9d9d9" stroke-width="1.6"/>
<circle cx="453.1" cy="221" r="8" fill="#ECCA94"/>
<circle cx="453.1" cy="521.25" r="5" fill="#f0f0f0"/>
<line x1="621.5" y1="235.5" x2="621.5" y2="405.6" stroke="#d9d9d9" stroke-width="1.1"/>
<circle cx="621.5" cy="235.5" r="8" fill="#FBB12B"/>
<circle cx="621.5" cy="405.6" r="5" fill="#f0f0f0"/>
<line x1="702.5" y1="218.5" x2="702.5" y2="469.25" stroke="#d9d9d9" stroke-width="1.1"/>
<circle cx="702.5" cy="218.5" r="8" fill="#177416"/>
<circle cx="702.5" cy="469.25" r="5" fill="#f0f0f0"/>
<line x1="911.5" y1="253" x2="911.5" y2="393" stroke="#d9d9d9" stroke-width="1.1"/>
<circle cx="911.5" cy="253" r="8" fill="#7C1620"/>
<circle cx="911.5" cy="393" r="5" fill="#f0f0f0"/>
</g>
<g id="text">
<text x="327.8" y="45" font-size="32" font-weight="bold" fill="#000" textLength="828" lengthAdjust="spacingAndGlyphs" >Starch-based Texturizing Agents Market Share, By Region,</text>
<text x="679.7" y="83.1" font-size="32" font-weight="bold" fill="#000" textLength="123.5" lengthAdjust="spacingAndGlyphs" >2024 (%)</text>
<text x="181.7" y="211" font-size="23.5" font-weight="bold" fill="#000" textLength="162" lengthAdjust="spacingAndGlyphs" >North America</text>
<text x="377.7" y="196.7" font-size="23.5" font-weight="bold" fill="#000" textLength="151.7" lengthAdjust="spacingAndGlyphs" >Latin America</text>
<text x="582.8" y="208.7" font-size="23.5" font-weight="bold" fill="#000" textLength="79.2" lengthAdjust="spacingAndGlyphs" >Europe</text>
<text x="688.6" y="164" font-size="23.5" font-weight="bold" fill="#000" textLength="130" lengthAdjust="spacingAndGlyphs" >Middle East</text>
<text x="688.6" y="195.5" font-size="23.5" font-weight="bold" fill="#000" textLength="112" lengthAdjust="spacingAndGlyphs" >and Africa</text>
<text x="891.3" y="227.8" font-size="23.5" font-weight="bold" fill="#000" textLength="124.3" lengthAdjust="spacingAndGlyphs" >Asia Pacific</text>
<text x="286.5" y="394.9" font-size="25" font-weight="bold" fill="#fff" textLength="47" lengthAdjust="spacingAndGlyphs" >35%</text>
<text x="416.5" y="555" font-size="25" font-weight="bold" fill="#000" textLength="33.3" lengthAdjust="spacingAndGlyphs" >8%</text>
<text x="636.6" y="410.6" font-size="25" font-weight="bold" fill="#000" textLength="47" lengthAdjust="spacingAndGlyphs" >29%</text>
<text x="667" y="506.25" font-size="25" font-weight="bold" fill="#fff" textLength="34.6" lengthAdjust="spacingAndGlyphs" >5%</text>
<text x="846.5" y="406.25" font-size="25" font-weight="bold" fill="#fff" textLength="48" lengthAdjust="spacingAndGlyphs" >23%</text>
<text x="525.8" y="691.7" font-size="16.5" font-weight="normal" fill="#1e1e1e" textLength="51.2" lengthAdjust="spacingAndGlyphs" >Source</text>
<text x="578.2" y="691.7" font-size="16.5" font-weight="normal" fill="#1e1e1e" textLength="4.6" lengthAdjust="spacingAndGlyphs" >:</text>
<text x="587.6" y="691.7" font-size="16.5" font-weight="normal" fill="#1e1e1e" textLength="166.4" lengthAdjust="spacingAndGlyphs" >www.towardsfnb.com</text>
<text x="96.3" y="49.7" font-size="30.5" font-weight="normal" fill="#D12E2E" textLength="110.5" lengthAdjust="spacingAndGlyphs" stroke="#D12E2E" stroke-width="0.9">Towards</text>
<text x="127.0" y="84.5" font-size="37.5" font-weight="bold" fill="#D12E2E" textLength="12.6" lengthAdjust="spacingAndGlyphs" stroke="#D12E2E" stroke-width="1.4" stroke-linejoin="round">F</text>
<text x="142.6" y="84.5" font-size="37.5" font-weight="bold" fill="#D12E2E" textLength="14.3" lengthAdjust="spacingAndGlyphs" stroke="#D12E2E" stroke-width="1.4" stroke-linejoin="round">n</text>
<text x="161.8" y="84.5" font-size="37.5" font-weight="bold" fill="#D12E2E" textLength="16.0" lengthAdjust="spacingAndGlyphs" stroke="#D12E2E" stroke-width="1.4" stroke-linejoin="round">B</text>
</g>
</svg>
<div class="frame"></div>
</body></html>
